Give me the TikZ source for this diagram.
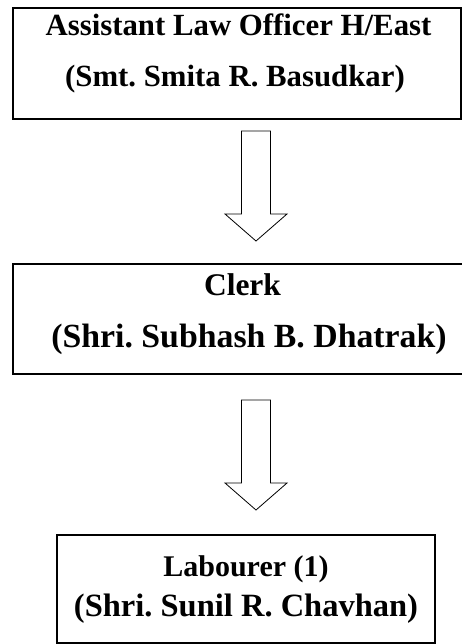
\documentclass[tikz,border=0pt]{standalone}
\usepackage{fontspec}
\setmainfont{Liberation Serif}
\usepackage{tikz}
\usetikzlibrary{positioning,calc}
\frenchspacing

\begin{document}
\begin{tikzpicture}[x=1pt,y=-1pt]
        \tikzstyle{post}=[draw, line width=2pt, inner sep=0pt]
        \tikzstyle{txt}=[anchor=base, inner sep=0pt, font=\bfseries]
        \tikzstyle{hollow}=[draw, line width=0.8pt, fill=white, line join=miter]

        \useasboundingbox (0,0) rectangle (462,644);
        \clip (0,0) rectangle (462,644);

        \node[post, minimum width=448pt, minimum height=111pt] (alo) at (237,63.5) {};
        \node[post, minimum width=462pt, minimum height=110pt] (clerk) at (244,319) {};
        \node[post, minimum width=378pt, minimum height=108pt] (lab) at (246,589) {};

        \node[txt] (alo1) at (238.5,36) {\fontsize{30.8}{31}\selectfont Assistant Law Officer H/East};
        \node[txt] (alo2) at (235,87) {\fontsize{30.8}{31}\selectfont (Smt. Smita R. Basudkar)};
        \node[txt] (clerk1) at (242.5,295) {\fontsize{31.5}{32}\selectfont Clerk};
        \node[txt] (clerk2) at (249,347) {\fontsize{33.8}{34}\selectfont (Shri. Subhash B. Dhatrak)};
        \node[txt] (lab1) at (246,576) {\fontsize{30}{30}\selectfont Labourer (1)};
        \node[txt] (lab2) at (246,616) {\fontsize{32.5}{33}\selectfont (Shri. Sunil R. Chavhan)};

        % hollow arrows between the boxes
        \coordinate (a1) at ($(alo.south)+(19,11)$);
        \coordinate (a2) at ($(clerk.south)+(12,25)$);
        \foreach \a in {a1,a2}
                \draw[hollow] (\a) ++(-14.5,0) -- ++(0,83) -- ++(-16.5,0)
                        -- ++(31,27) -- ++(31,-27) -- ++(-16.5,0) -- ++(0,-83) -- cycle;
\end{tikzpicture}
\end{document}
